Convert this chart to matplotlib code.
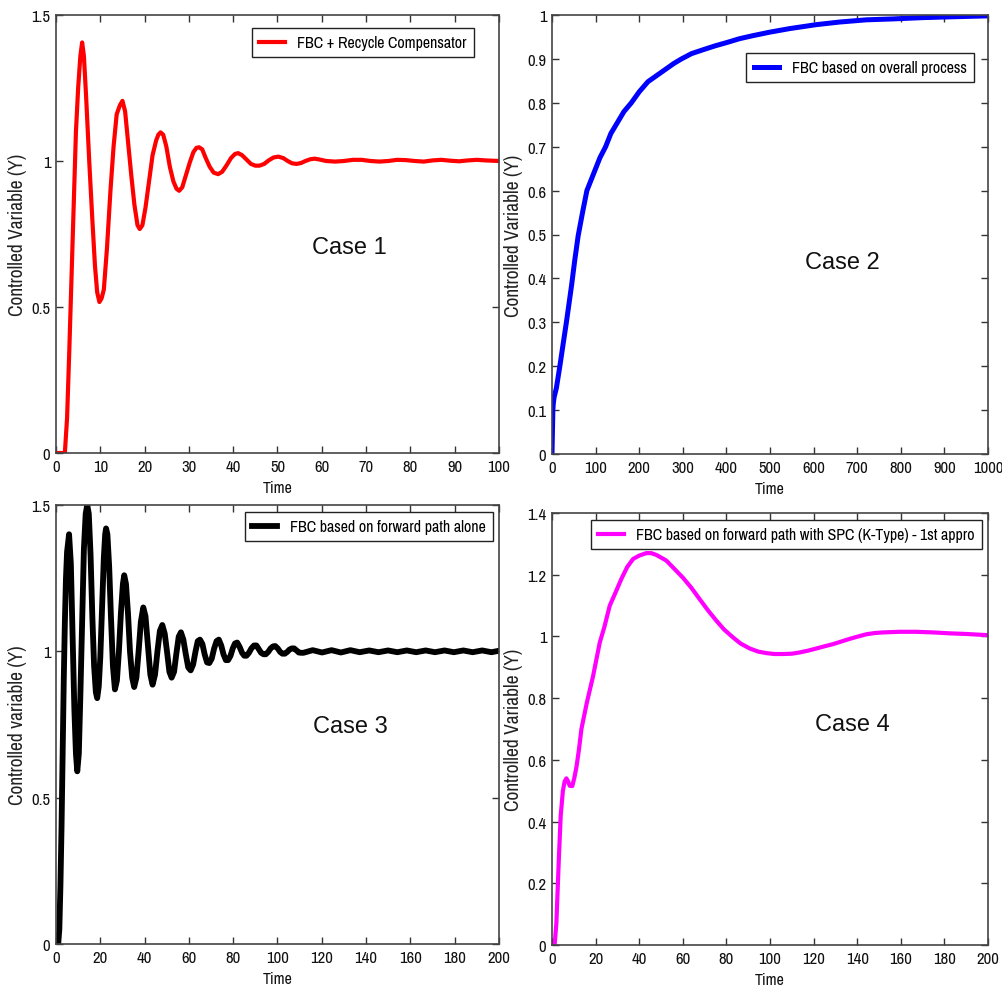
import matplotlib
matplotlib.use("Agg")
import matplotlib.pyplot as plt
from matplotlib.ticker import FuncFormatter, MultipleLocator
from matplotlib import font_manager

_avail = {f.name for f in font_manager.fontManager.ttflist}
_cands = ['Liberation Sans Narrow', 'Arial Narrow', 'Archivo Narrow', 'PT Sans Narrow',
          'Roboto Condensed', 'Open Sans Condensed', 'Fira Sans Condensed',
          'IBM Plex Sans Condensed', 'Encode Sans Condensed', 'Liberation Sans']
_narrow = next((c for c in _cands if c in _avail), 'DejaVu Sans')
NARROW = [_narrow, 'DejaVu Sans']
ARIAL = ['Liberation Sans', 'DejaVu Sans']

# ---------------- data ----------------
t1 = [0, 2.0, 2.5, 3.0, 3.5, 4.0, 4.5, 5.0, 5.5, 5.9, 6.3, 6.8, 7.5, 8.2, 8.8, 9.3, 9.8, 10.3,
      10.8, 11.5, 12.3, 13.0, 13.7, 14.4, 15.0, 15.6, 16.3, 17.0, 17.7, 18.4, 18.9, 19.5, 20.2,
      21.0, 21.8, 22.6, 23.1, 23.6, 24.2, 24.9, 25.7, 26.5, 27.2, 27.8, 28.5, 29.3, 30.2, 31.0,
      31.7, 32.3, 33.0, 33.8, 34.7, 35.6, 36.6, 37.5, 38.5, 39.5, 40.4, 41.1, 42.0, 43.0, 44.0,
      45.0, 45.9, 47.0, 48.0, 49.1, 50.2, 51.3, 52.3, 53.3, 54.3, 55.3, 56.3, 57.4, 58.4, 59.5,
      61, 63, 65, 67, 69, 71, 73, 75, 77, 79, 81, 83, 85, 87, 89, 91, 93, 95, 97, 100]
y1 = [0, 0, 0.12, 0.35, 0.6, 0.85, 1.1, 1.25, 1.36, 1.406, 1.36, 1.22, 1.0, 0.8, 0.64, 0.55, 0.517,
      0.53, 0.56, 0.70, 0.90, 1.05, 1.16, 1.19, 1.206, 1.17, 1.06, 0.95, 0.85, 0.78, 0.767, 0.78,
      0.84, 0.93, 1.02, 1.07, 1.09, 1.098, 1.09, 1.05, 0.98, 0.93, 0.905, 0.898, 0.91, 0.95, 0.995,
      1.03, 1.045, 1.047, 1.04, 1.01, 0.98, 0.96, 0.955, 0.963, 0.985, 1.01, 1.024, 1.027, 1.02,
      1.005, 0.99, 0.984, 0.984, 0.99, 1.002, 1.012, 1.015, 1.01, 1.0, 0.992, 0.99, 0.993, 1.0,
      1.006, 1.008, 1.005, 1.0, 0.998, 1.0, 1.004, 1.004, 1.0, 0.998, 1.0, 1.004, 1.003, 1.0, 0.998,
      1.002, 1.004, 1.001, 0.999, 1.002, 1.004, 1.002, 1.0]

t2 = [0, 1, 2, 3, 5, 10, 18, 25, 33, 45, 52, 60, 70, 80, 90, 100, 110, 123, 135, 150, 165, 182,
      200, 220, 240, 260, 280, 297, 320, 350, 375, 400, 430, 461, 500, 545, 606, 660, 721, 780,
      850, 920, 1000]
y2 = [0, 0.05, 0.10, 0.115, 0.13, 0.15, 0.20, 0.247, 0.30, 0.385, 0.44, 0.497, 0.55, 0.60,
      0.625, 0.65, 0.675, 0.70, 0.73, 0.755, 0.78, 0.80, 0.825, 0.848, 0.862, 0.876, 0.89, 0.90,
      0.912, 0.922, 0.93, 0.937, 0.946, 0.953, 0.961, 0.969, 0.978, 0.984, 0.989, 0.991, 0.994,
      0.996, 0.998]

t3 = [0, 1.0, 1.5, 2.0, 2.5, 3.0, 3.5, 4.0, 4.5, 5.0, 5.9, 6.7, 7.5, 8.3, 9.0, 9.6, 10.3, 11.0,
      11.8, 12.6, 13.4, 14.1, 14.8, 15.6, 16.4, 17.2, 18.0, 18.6, 19.3, 20.0, 20.8, 21.6, 22.2,
      22.6, 23.2, 24.0, 24.8, 25.7, 26.6, 27.5, 28.4, 29.3, 30.2, 30.8, 31.6, 32.5, 33.4, 34.4,
      35.3, 36.3, 37.3, 38.3, 39.4, 40.4, 41.5, 42.6, 43.6, 44.7, 45.8, 46.9, 48.0, 49.1, 50.1,
      51.2, 52.2, 53.3, 54.3, 55.4, 56.4, 57.5, 58.6, 59.7, 60.8, 61.9, 63.0, 64.0, 65.0, 66.1,
      67.1, 68.2, 69.2, 70.3, 71.4, 72.5, 73.5, 74.6, 75.6, 76.7, 77.7, 78.8, 79.8, 80.8, 81.8,
      82.9, 84.0, 85.0, 86.0, 87.1, 88.2, 89.4, 90.5, 91.5, 92.6, 93.7, 94.7, 95.8, 96.9, 98.0,
      99.0, 100.1, 101.2, 102.2, 103.3, 104.4, 105.4, 106.5, 107.5, 108.6, 109.6, 110.7, 111.7,
      115.9, 120.1, 124.4, 128.6, 132.9, 137.1, 141.4, 145.6, 149.9, 154.1, 158.4, 162.6, 166.9,
      171.1, 175.4, 179.6, 183.9, 188.1, 192.4, 196.6, 200]
y3 = [0, 0, 0.05, 0.2, 0.4, 0.65, 0.9, 1.1, 1.25, 1.34, 1.40, 1.30, 1.05, 0.80, 0.65, 0.59, 0.65,
      0.85, 1.1, 1.35, 1.47, 1.50, 1.47, 1.33, 1.12, 0.95, 0.86, 0.84, 0.88, 0.98, 1.15, 1.32,
      1.40, 1.42, 1.40, 1.29, 1.12, 0.95, 0.87, 0.90, 1.0, 1.13, 1.23, 1.26, 1.23, 1.13, 1.0,
      0.91, 0.878, 0.91, 1.0, 1.10, 1.15, 1.12, 1.02, 0.92, 0.886, 0.92, 1.0, 1.07, 1.09, 1.06,
      1.0, 0.93, 0.91, 0.93, 0.99, 1.05, 1.065, 1.04, 0.99, 0.945, 0.935, 0.955, 1.0, 1.035, 1.04,
      1.025, 0.99, 0.962, 0.96, 0.975, 1.01, 1.035, 1.04, 1.02, 0.99, 0.97, 0.97, 0.985, 1.01,
      1.027, 1.03, 1.015, 0.995, 0.985, 0.985, 0.995, 1.01, 1.02, 1.02, 1.008, 0.995, 0.99, 0.99,
      0.998, 1.01, 1.017, 1.018, 1.01, 0.998, 0.992, 0.992, 0.998, 1.006, 1.01, 1.01, 1.003,
      0.996, 0.995, 0.995, 1.004, 0.996, 1.004, 0.996, 1.004, 0.997, 1.003, 0.997, 1.003, 0.997,
      1.003, 0.997, 1.003, 0.997, 1.003, 0.997, 1.003, 0.997, 1.003, 0.997, 1.002]

t4 = [0, 1.2, 2.0, 2.6, 3.2, 4.0, 5.0, 5.8, 6.6, 7.4, 8.1, 9.3, 10.2, 11.2, 12.3, 13.5, 16.0,
      18.8, 21.9, 24.0, 26.5, 29.0, 31.8, 34.5, 37.2, 40.0, 43.3, 45.5, 47.9, 52.4, 56.0, 60.1,
      64.0, 67.7, 71.5, 75.4, 79.0, 83.0, 86.5, 90.7, 94.5, 98.3, 102.0, 106.0, 110.0, 113.6,
      117.5, 121.3, 125.0, 128.9, 132.5, 136.5, 140.5, 144.2, 148.0, 151.8, 155.5, 159.5, 167.0,
      174.8, 182.5, 190.0, 200.0]
y4 = [0, 0, 0.07, 0.18, 0.29, 0.42, 0.50, 0.53, 0.54, 0.53, 0.516, 0.515, 0.54, 0.576, 0.63,
      0.70, 0.786, 0.87, 0.98, 1.03, 1.10, 1.14, 1.186, 1.225, 1.251, 1.262, 1.27, 1.27, 1.264,
      1.246, 1.22, 1.19, 1.157, 1.121, 1.085, 1.051, 1.022, 0.997, 0.977, 0.961, 0.951, 0.946,
      0.943, 0.943, 0.944, 0.948, 0.954, 0.961, 0.968, 0.975, 0.983, 0.992, 1.0, 1.007, 1.011,
      1.013, 1.014, 1.015, 1.015, 1.013, 1.01, 1.008, 1.004]

labels = ["FBC + Recycle Compensator", "FBC based on overall process",
          "FBC based on forward path alone",
          "FBC based on forward path with SPC (K-Type) - 1st appro"]
cases = ["Case 1", "Case 2", "Case 3", "Case 4"]
ylabels = ["Controlled Variable (Y)", "Controlled Variable (Y)",
           "Controlled variable (Y)", "Controlled Variable (Y)"]

# ---------------- figure ----------------
W, H = 1003, 987
fig = plt.figure(figsize=(W / 100, H / 100), dpi=100)

def px_axes(x0, x1, ytop, ybot):
    return fig.add_axes([x0 / W, 1 - ybot / H, (x1 - x0) / W, (ybot - ytop) / H])

fmt = FuncFormatter(lambda v, p: ("%g" % round(v, 6)))

specs = [
    dict(box=(56, 499, 16, 454), t=t1, y=y1, color='#ff0000', lw=3.0, xlim=(0, 100), xstep=10,
         ylim=(0, 1.5), ystep=0.5, leg=(474, 29), case=(349, 248)),
    dict(box=(552, 988, 16, 455), t=t2, y=y2, color='#0000ff', lw=3.6, xlim=(0, 1000), xstep=100,
         ylim=(0, 1), ystep=0.1, leg=(974, 54), case=(842, 263)),
    dict(box=(56, 499, 506, 945), t=t3, y=y3, color='#000000', lw=4.2, xlim=(0, 200), xstep=20,
         ylim=(0, 1.5), ystep=0.5, leg=(493, 513), case=(350, 727)),
    dict(box=(552, 988, 514, 946), t=t4, y=y4, color='#ff00ff', lw=3.0, xlim=(0, 200), xstep=20,
         ylim=(0, 1.4), ystep=0.2, leg=(982, 521), case=(852, 725)),
]

for i, s in enumerate(specs):
    x0, x1, yt, yb = s['box']
    ax = px_axes(x0, x1, yt, yb)
    ax.plot(s['t'], s['y'], color=s['color'], lw=s['lw'], label=labels[i],
            solid_joinstyle='round', clip_on=True)
    ax.set_xlim(*s['xlim'])
    ax.set_ylim(*s['ylim'])
    ax.xaxis.set_major_locator(MultipleLocator(s['xstep']))
    ax.yaxis.set_major_locator(MultipleLocator(s['ystep']))
    ax.xaxis.set_major_formatter(fmt)
    ax.yaxis.set_major_formatter(fmt)
    ax.tick_params(direction='in', top=True, right=True, length=5, width=1,
                   color='#333333', labelsize=12, pad=4)
    for lab in ax.get_xticklabels() + ax.get_yticklabels():
        lab.set_family(NARROW)
        lab.set_color('#111111')
    for sp in ax.spines.values():
        sp.set_color('#444444')
        sp.set_linewidth(1.2)
    ax.set_xlabel("Time", family=NARROW, fontsize=11.5, color='#111111')
    ax.set_ylabel(ylabels[i], family=NARROW, fontsize=14, color='#222222')
    hpx = yb - yt
    wpx = x1 - x0
    ax.xaxis.set_label_coords(0.5, -27 / hpx)
    ax.yaxis.set_label_coords(-29 / wpx, 0.5)
    lx, ly = s['leg']
    leg = ax.legend(loc='upper right', bbox_to_anchor=(lx / W, 1 - ly / H),
                    bbox_transform=fig.transFigure, borderaxespad=0,
                    prop={'family': NARROW, 'size': 11.5}, fancybox=False,
                    framealpha=1, edgecolor='#222222', handlelength=1.6,
                    handletextpad=0.8, borderpad=0.45)
    leg.get_frame().set_linewidth(1.0)
    cx, cy = s['case']
    fig.text(cx / W, 1 - cy / H, cases[i], family=ARIAL, fontsize=17,
             ha='center', va='center', color='#111111')

fig.savefig("out.png", dpi=100)
